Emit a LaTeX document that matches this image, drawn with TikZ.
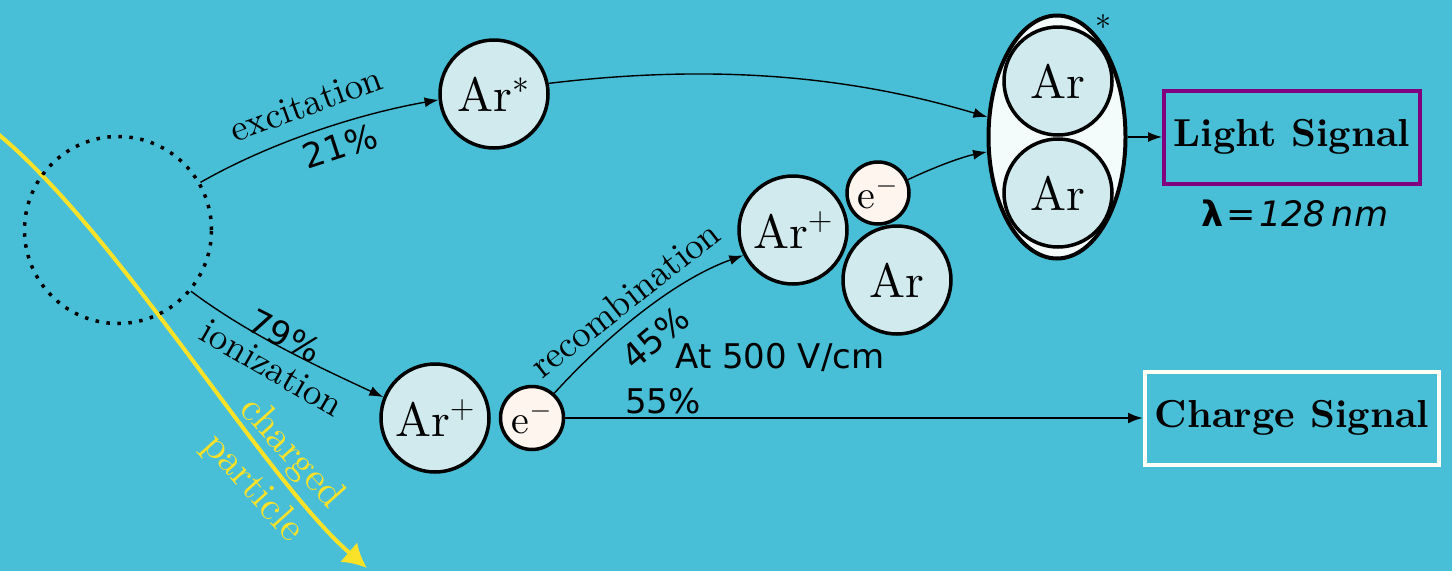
\documentclass[tikz,border=0pt]{standalone}
\usepackage{fix-cm}
\usepackage{fontspec}
\setmainfont{lmroman10-regular.otf}[BoldFont=lmroman10-bold.otf,ItalicFont=lmroman10-italic.otf,BoldItalicFont=lmroman10-bolditalic.otf]
\newfontfamily\dejavu{DejaVu Sans}
\usetikzlibrary{arrows.meta,shapes.geometric}
\definecolor{bg}{RGB}{72,191,214}
\definecolor{atom}{RGB}{209,234,238}
\definecolor{elec}{RGB}{253,245,238}
\definecolor{excim}{RGB}{244,251,251}
\definecolor{ylw}{RGB}{250,226,40}
\definecolor{purp}{RGB}{128,0,128}
\definecolor{cream}{RGB}{255,255,245}
\begin{document}
\begin{tikzpicture}[x=1pt,y=-1pt,
  atomnode/.style={circle,draw,line width=3.5pt,fill=atom,inner sep=0pt,minimum size=108pt,font=\fontsize{48}{56}\selectfont},
  elecnode/.style={circle,draw,line width=3.5pt,fill=elec,inner sep=0pt,font=\fontsize{40}{46}\selectfont},
  flow/.style={line width=1.4pt,-{Latex[length=14pt,width=10pt]}},
  lbl/.style={font=\fontsize{37}{42}\selectfont,inner sep=0pt},
  pct/.style={font=\dejavu\fontsize{34}{40}\selectfont,inner sep=0pt},
  sigbox/.style={draw,line width=4pt,inner sep=0pt,minimum width=256pt,minimum height=93pt,font=\bfseries\fontsize{39}{46}\selectfont}
]
\fill[bg] (0,0) rectangle (1452,571);
\useasboundingbox (0,0) rectangle (1452,571);

% charged particle track
\draw[ylw,line width=4pt,-{Latex[length=24pt,width=26pt]}]
  (-2,134) .. controls (120,235) and (265,480) .. (367,568);
\node[ylw,align=center,rotate=-48,font=\fontsize{40}{52}\selectfont,inner sep=0pt] (cp) at (272,471) {charged\\particle};

% interaction region
\node[circle,draw,line width=3.5pt,dash pattern=on 3.5pt off 7.5pt,minimum size=187pt,inner sep=0pt] (blob) at (118,230) {};

% atoms
\node[atomnode] (arstar) at (494,94) {Ar$^*$};
\node[atomnode] (arlow) at (435,418) {Ar$^+$};
\node[elecnode,minimum size=63pt] (elow) at (532,418) {e$^-$};
\node[atomnode] (arup) at (793,230) {Ar$^+$};
\node[elecnode,minimum size=62pt] (eup) at (878,193) {e$^-$};
\node[atomnode] (arn) at (897,280) {Ar};

% excimer
\node[ellipse,draw,line width=4pt,fill=excim,minimum width=137pt,minimum height=243pt,inner sep=0pt] (excim) at (1057,137) {};
\node[atomnode] (ex1) at (1058,81) {Ar};
\node[atomnode] (ex2) at (1058,193) {Ar};
\node[font=\fontsize{32}{36}\selectfont,inner sep=0pt] (star) at (1103,22) {$*$};

% signals
\node[sigbox,draw=purp] (light) at (1292,137) {Light Signal};
\node[sigbox,draw=cream,minimum width=294pt] (charge) at (1292,418) {Charge Signal};
\node[font=\dejavu\fontsize{35}{40}\selectfont,inner sep=0pt] (lam) at (1295,213) {{\bfseries λ}\hspace{3pt}=\hspace{3pt}{\itshape 128\hspace{6pt}nm}};

% connectors
\draw[flow] (blob.30) .. controls +(70,-40) and +(-80,14) .. (arstar.186);
\draw[flow] (blob.-40) .. controls +(60,45) and +(-60,-28) .. (arlow.158);
\draw[flow] (elow.48) .. controls +(50,-55) and +(-70,25) .. (arup.207);
\draw[flow] (arstar.11) .. controls +(150,-18) and +(-150,-45) .. (excim.164);
\draw[flow] (eup.24) .. controls +(25,-12) and +(-25,5) .. (excim.192);
\draw[flow] (excim.east) -- (light.west);
\draw[line width=2.4pt,-{Latex[length=15pt,width=11pt]}] (elow.east) -- (charge.west);

% labels
\node[lbl,rotate=20] (lexc) at (306,104) {excitation};
\node[pct,rotate=18] (p21) at (340,146) {21\%};
\node[pct,rotate=-27] (p79) at (285,336) {79\%};
\node[lbl,rotate=-30] (lion) at (272,368) {ionization};
\node[lbl,rotate=38] (lrec) at (625,299) {recombination};
\node[pct,rotate=40] (p45) at (655,338) {45\%};
\node[font=\dejavu\fontsize{34}{38}\selectfont,inner sep=0pt] (field) at (780,357) {At 500 V/cm};
\node[pct] (p55) at (663,401) {55\%};
\end{tikzpicture}
\end{document}
